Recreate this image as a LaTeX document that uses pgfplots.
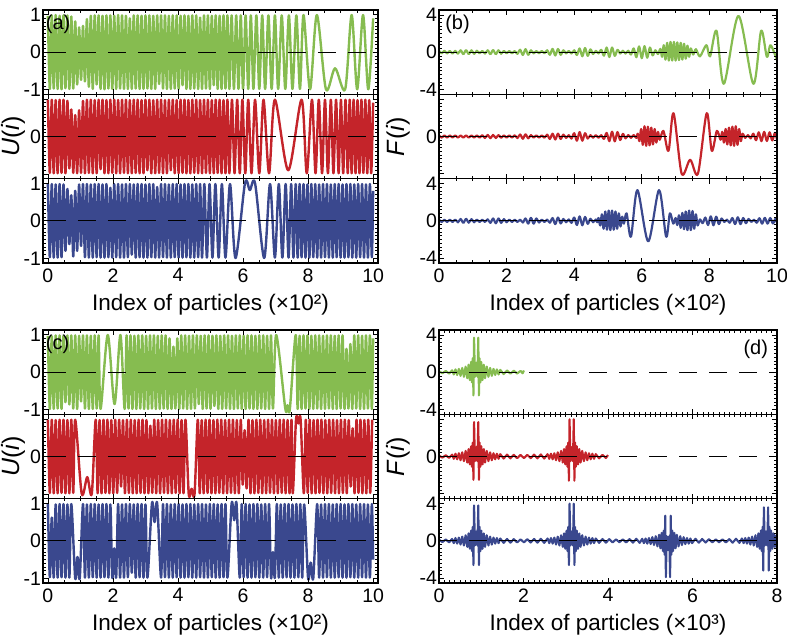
\documentclass[border=0pt]{standalone}
\usepackage{fontspec}
\setmainfont{Liberation Sans}
\usepackage{pgfplots}
\pgfplotsset{compat=1.18}
\definecolor{cg}{RGB}{134,188,80}
\definecolor{cr}{RGB}{196,36,42}
\definecolor{cb}{RGB}{58,72,142}
\tikzset{plab/.style={inner sep=0pt, font=\fontsize{20}{20}\selectfont}}
\pgfplotsset{
 base/.style={scale only axis, height=84.33pt, axis on top,
   axis line style={line width=1.1pt},
   tick style={black, line width=0.7pt},
   major tick length=5pt, minor tick length=2.8pt,
   tick align=inside,
   tick label style={font=\fontsize{19.5}{20}\selectfont},
   xticklabel style={yshift=-2pt},
   yticklabel style={xshift=1.5pt},
   xticklabels={},
   every axis x label/.style={at={(axis description cs:0.5,0)}, anchor=north, yshift=-28pt, font=\fontsize{22.5}{24}\selectfont},
 },
 ua/.style={base, width=335pt, xmin=-0.15, xmax=10.15, ymin=-1.124, ymax=1.124, xtick={0,2,4,6,8,10}, minor x tick num=3, ytick={-1,0,1}, minor y tick num=9, yticklabels={-1,0,1},
   every axis y label/.style={at={(axis description cs:-0.088,0.5)}, rotate=90, anchor=center, font=\fontsize{25}{27}\selectfont}},
 fb/.style={base, width=338pt, xmin=0, xmax=10, ymin=-4.53, ymax=4.53, xtick={0,2,4,6,8,10}, minor x tick num=3, ytick={-4,0,4}, minor y tick num=9, yticklabels={-4,0,4},
   every axis y label/.style={at={(axis description cs:-0.121,0.5)}, rotate=90, anchor=center, font=\fontsize{25}{27}\selectfont}},
 fd/.style={fb, xmax=8, xtick={0,2,4,6,8}, minor x tick num=15},
 mid/.style={yticklabels={,0,}},
 botA/.style={xticklabels={0,2,4,6,8,10}, xlabel={Index of particles (×10²)}},
 botD/.style={xticklabels={0,2,4,6,8}, xlabel={Index of particles (×10³)}},
 zl/.style={black, line width=0.9pt, dash pattern=on 18pt off 12pt},
 dl/.style={line width=2.1pt, line join=round},
 sm/.style={line width=2.4pt, line join=round, smooth, tension=0.5},
 smf/.style={line width=2.2pt, line join=round, smooth, tension=0.5},
}
\begin{document}
\begin{tikzpicture}
\path[use as bounding box] (0,0) rectangle (787pt,637pt);
% ================= (a) =================
\begin{axis}[ua, at={(43pt,542.67pt)}, anchor=south west]
\addplot[cg, sm] coordinates {
(0,.97)(.06,-.98)(.12,.98)(.18,-.97)(.24,.99)(.30,-.98)(.36,.97)(.42,-.99)(.48,.98)(.54,-.96)
(.60,.98)(.66,-.98)(.72,.95)(.78,-.97)(.84,.82)(.90,-.86)(.96,.66)(1.02,-.74)(1.08,.7)(1.14,-.78)
(1.20,.88)(1.26,-.92)(1.32,.97)(1.38,-.98)(1.44,.98)(1.50,-.86)(1.56,.98)(1.62,-.98)(1.68,.97)(1.74,-.99)
(1.80,.98)(1.86,-.97)(1.92,.98)(1.98,-.98)(2.04,.97)(2.10,-.98)(2.16,.99)(2.22,-.97)(2.28,.98)(2.34,-.98)
(2.40,.97)(2.46,-.98)(2.52,.90)(2.58,-.98)(2.64,.98)(2.70,-.97)(2.76,.98)(2.82,-.98)(2.88,.97)(2.94,-.98)
(3.00,.98)(3.06,-.97)(3.12,.98)(3.18,-.98)(3.24,.97)(3.30,-.98)(3.36,.98)(3.42,-.85)(3.48,.98)(3.54,-.97)
(3.60,.98)(3.66,-.98)(3.72,.97)(3.78,-.98)(3.84,.98)(3.90,-.97)(3.96,.98)(4.02,-.98)(4.08,.97)(4.14,-.88)
(4.20,.98)(4.26,-.98)(4.32,.97)(4.38,-.98)(4.44,.98)(4.50,-.97)(4.56,.98)(4.62,-.98)(4.68,.92)(4.74,-.98)
(4.80,.98)(4.86,-.97)(4.92,.98)(4.98,-.98)(5.04,.97)(5.10,-.88)(5.16,.98)(5.22,-.98)(5.28,.97)(5.34,-.98)
(5.40,.98)(5.46,-.97)(5.52,.98)(5.58,-.98)
(5.65,.98)(5.72,-.98)(5.79,.98)(5.86,-.98)(5.93,.98)(6.00,-.98)(6.08,.98)(6.16,-.98)(6.24,.98)(6.32,-.98)
(6.41,.98)(6.50,-.98)(6.59,.98)(6.68,-.98)(6.78,.98)(6.88,-.98)(6.98,.98)(7.08,-.98)(7.19,.98)(7.30,-.98)
(7.41,.98)(7.52,-.98)(7.64,.98)(7.75,-.98)(7.86,.99)(8.06,-.99)
(8.27,.99)(8.55,-.99)(8.83,-.43)(9.14,-.99)(9.34,.99)(9.51,-.99)(9.69,.99)(9.85,-.99)(10.0,.9)};
\addplot[zl] coordinates {(0,0)(10.15,0)};
\node[plab, anchor=north west] at (rel axis cs:0.008,0.94) {(a)};
\end{axis}
\begin{axis}[ua, mid, at={(43pt,458.33pt)}, anchor=south west, ylabel={\textit{U}(\textit{i})}]
\addplot[cr, sm] coordinates {
(0,.98)(.06,-.97)(.12,.98)(.18,-.98)(.24,.97)(.30,-.98)(.36,.98)(.42,-.97)(.48,.98)(.54,-.98)
(.60,.95)(.66,-.85)(.72,.72)(.78,-.97)(.84,.57)(.90,-.98)(.96,.7)(1.02,-.97)(1.08,.95)(1.14,-.98)
(1.20,.98)(1.26,-.97)(1.32,.98)(1.38,-.98)(1.44,.97)(1.50,-.98)(1.56,.98)(1.62,-.87)(1.68,.98)(1.74,-.98)
(1.80,.97)(1.86,-.98)(1.92,.98)(1.98,-.97)(2.04,.98)(2.10,-.98)(2.16,.97)(2.22,-.98)(2.28,.98)(2.34,-.97)
(2.40,.98)(2.46,-.98)(2.52,.97)(2.58,-.98)(2.64,.98)(2.70,-.97)(2.76,.98)(2.82,-.98)(2.88,.97)(2.94,-.98)
(3.00,.98)(3.06,-.9)(3.12,.98)(3.18,-.98)(3.24,.97)(3.30,-.98)(3.36,.98)(3.42,-.97)(3.48,.98)(3.54,-.98)
(3.60,.97)(3.66,-.98)(3.72,.98)(3.78,-.9)(3.84,.98)(3.90,-.98)(3.96,.97)(4.02,-.98)(4.08,.98)(4.14,-.97)
(4.20,.98)(4.26,-.98)(4.32,.97)(4.38,-.98)(4.44,.98)(4.50,-.97)(4.56,.98)(4.62,-.98)(4.68,.97)(4.74,-.98)
(4.80,.98)(4.86,-.97)(4.92,.98)(4.98,-.98)(5.04,.97)(5.10,-.98)(5.16,.98)(5.22,-.97)(5.28,.98)(5.34,-.98)
(5.40,.97)(5.46,-.98)(5.52,.98)(5.58,-.98)
(5.66,.98)(5.74,-.98)(5.82,.98)(5.90,-.98)(5.98,.98)(6.07,-.98)(6.16,.98)(6.26,-.98)(6.37,.98)(6.50,-.98)
(6.63,.98)(6.80,-.98)(6.98,.98)(7.39,-.9)(7.80,.98)(7.96,-.98)(8.12,.98)(8.23,-.98)(8.33,.98)(8.43,-.98)
(8.52,.98)(8.61,-.98)(8.70,.98)(8.78,-.98)(8.86,.98)(8.94,-.98)(9.01,.98)(9.08,-.98)(9.15,.98)(9.22,-.98)
(9.28,.98)(9.34,-.98)(9.40,.98)(9.46,-.98)(9.52,.97)(9.58,-.98)(9.64,.98)(9.70,-.97)(9.76,.98)(9.82,-.98)
(9.88,.97)(9.94,-.98)(10.0,.9)};
\addplot[zl] coordinates {(0,0)(10.15,0)};
\end{axis}
\begin{axis}[ua, botA, at={(43pt,374pt)}, anchor=south west]
\addplot[cb, sm] coordinates {
(0,.98)(.06,-.97)(.12,.98)(.18,-.98)(.24,.97)(.30,-.98)(.36,.98)(.42,-.97)(.48,.97)(.54,-.8)
(.60,.85)(.66,-.62)(.72,.68)(.78,-.95)(.84,.8)(.90,-.8)(.96,.97)(1.02,-.67)(1.08,.98)(1.14,-.97)
(1.20,.98)(1.26,-.98)(1.32,.97)(1.38,-.98)(1.44,.98)(1.50,-.97)(1.56,.98)(1.62,-.98)(1.68,.97)(1.74,-.98)
(1.80,.98)(1.86,-.97)(1.92,.88)(1.98,-.98)(2.04,.98)(2.10,-.97)(2.16,.98)(2.22,-.98)(2.28,.97)(2.34,-.98)
(2.40,.98)(2.46,-.97)(2.52,.98)(2.58,-.9)(2.64,.97)(2.70,-.98)(2.76,.98)(2.82,-.97)(2.88,.98)(2.94,-.98)
(3.00,.97)(3.06,-.98)(3.12,.98)(3.18,-.97)(3.24,.98)(3.30,-.98)(3.36,.9)(3.42,-.98)(3.48,.98)(3.54,-.97)
(3.60,.98)(3.66,-.98)(3.72,.97)(3.78,-.98)(3.84,.98)(3.90,-.97)(3.96,.98)(4.02,-.98)(4.08,.97)(4.14,-.98)
(4.20,.98)(4.26,-.97)(4.32,.98)(4.38,-.98)(4.44,.97)(4.50,-.98)(4.56,.98)(4.62,-.97)(4.68,.98)
(4.74,-.98)(4.81,.98)(4.89,-.98)(4.97,.98)(5.06,-.98)(5.15,.98)(5.25,-.98)(5.35,.98)(5.46,-.98)(5.60,.98)
(5.77,-.99)(6.06,1.0)(6.21,.82)(6.37,1.0)(6.65,-.99)(6.83,.98)(6.98,-.98)(7.10,.98)(7.21,-.98)(7.31,.98)
(7.40,-.98)(7.48,.98)(7.55,-.98)(7.62,.98)(7.68,-.98)
(7.74,.98)(7.80,-.97)(7.86,.98)(7.92,-.98)(7.98,.97)(8.04,-.98)(8.10,.98)(8.16,-.97)(8.22,.98)(8.28,-.98)
(8.34,.97)(8.40,-.98)(8.46,.98)(8.52,-.97)(8.58,.98)(8.64,-.98)(8.70,.97)(8.76,-.98)(8.82,.98)(8.88,-.97)
(8.94,.98)(9.00,-.98)(9.06,.97)(9.12,-.98)(9.18,.98)(9.24,-.97)(9.30,.98)(9.36,-.98)(9.42,.97)(9.48,-.98)
(9.54,.98)(9.60,-.97)(9.66,.98)(9.72,-.98)(9.78,.97)(9.84,-.98)(9.90,.98)(9.96,-.97)(10.0,.8)};
\addplot[zl] coordinates {(0,0)(10.15,0)};
\end{axis}
% ================= (b) =================
\begin{axis}[fb, at={(439pt,542.67pt)}, anchor=south west]
\addplot[cg, smf] coordinates {
(0,.14)(.08,-.13)(.16,.15)(.24,-.14)(.32,.13)(.40,-.15)(.48,.14)(.56,-.16)(.64,.2)(.72,-.22)
(.80,.22)(.88,-.21)(.96,.2)(1.04,-.18)(1.12,.15)(1.20,-.12)(1.28,.12)(1.36,-.15)(1.44,.2)(1.52,-.22)
(1.60,.22)(1.68,-.22)(1.76,.2)(1.84,-.17)(1.92,.14)(2.00,-.12)(2.08,.12)(2.16,-.13)(2.24,.12)(2.32,-.18)
(2.40,.26)(2.48,-.3)(2.56,.32)(2.64,-.28)(2.72,.2)(2.80,-.13)(2.88,.12)(2.96,-.12)(3.04,.13)(3.12,-.12)
(3.20,.2)(3.28,-.28)(3.36,.35)(3.44,-.36)(3.52,.34)(3.60,-.28)(3.68,.2)(3.76,-.13)(3.84,.13)(3.92,-.14)
(4.00,.2)(4.08,-.3)(4.16,.4)(4.24,-.44)(4.32,.45)(4.40,-.4)(4.48,.3)(4.56,-.2)(4.64,.14)(4.72,-.14)
(4.80,.25)(4.88,-.38)(4.96,.5)(5.04,-.52)(5.12,.5)(5.20,-.4)(5.28,.25)(5.36,-.15)(5.44,.15)(5.52,-.15)
(5.60,.15)(5.68,-.25)(5.76,.4)(5.84,-.55)(5.92,.62)(6.00,-.65)(6.08,.65)(6.16,-.6)(6.24,.5)(6.32,-.35)
(6.40,.2)(6.48,-.2)
(6.55,.35)(6.60,-.5)(6.65,.75)(6.70,-.8)(6.75,1.0)(6.80,-.9)(6.85,1.1)(6.90,-.9)(6.95,1.1)(7.00,-.9)
(7.05,1.05)(7.10,-.85)(7.15,1.0)(7.20,-.8)(7.25,.9)(7.30,-.7)(7.35,.7)(7.40,-.5)(7.45,.4)
(7.52,-.25)(7.60,.32)(7.72,-.45)(7.91,.75)(8.02,-.45)(8.21,2.3)(8.43,-3.4)(8.86,3.9)(9.30,-3.4)(9.53,2.3)
(9.70,-.5)(9.81,.75)(10.0,-.85)};
\addplot[zl] coordinates {(0,0)(10,0)};
\node[plab, anchor=north west] at (rel axis cs:0.018,0.94) {(b)};
\end{axis}
\begin{axis}[fb, mid, at={(439pt,458.33pt)}, anchor=south west, ylabel={\textit{F}(\textit{i})}]
\addplot[cr, smf] coordinates {
(0,.12)(.08,-.12)(.16,.11)(.24,-.12)(.32,.12)(.40,-.11)(.48,.12)(.56,-.12)(.64,.11)(.72,-.12)
(.80,.12)(.88,-.12)(.96,.11)(1.04,-.12)(1.12,.12)(1.20,-.12)(1.28,.14)(1.36,-.16)(1.44,.17)(1.52,-.18)
(1.60,.17)(1.68,-.16)(1.76,.15)(1.84,-.13)(1.92,.12)(2.00,-.12)(2.08,.12)(2.16,-.12)(2.24,.13)(2.32,-.17)
(2.40,.22)(2.48,-.24)(2.56,.23)(2.64,-.2)(2.72,.15)(2.80,-.12)(2.88,.12)(2.96,-.12)(3.04,.12)(3.12,-.13)
(3.20,.2)(3.28,-.26)(3.36,.3)(3.44,-.32)(3.52,.3)(3.60,-.26)(3.68,.2)(3.76,-.15)(3.84,.14)(3.92,-.22)
(4.00,.35)(4.08,-.45)(4.16,.48)(4.24,-.45)(4.32,.35)(4.40,-.22)(4.48,.14)(4.56,-.13)(4.64,.14)(4.72,-.13)
(4.80,.14)(4.88,-.25)(4.96,.38)(5.04,-.5)(5.12,.52)(5.20,-.52)(5.28,.48)(5.36,-.38)(5.44,.28)(5.52,-.2)
(5.60,.15)(5.68,-.14)(5.76,.15)(5.84,-.15)
(5.88,.3)(5.93,-.5)(5.98,.8)(6.03,-.9)(6.08,1.1)(6.13,-1.0)(6.18,1.05)(6.23,-.95)(6.28,.95)(6.33,-.85)
(6.38,.8)(6.43,-.65)(6.48,.5)(6.53,-.35)
(6.64,.6)(6.79,-1.55)(6.94,2.5)(7.18,-4.0)(7.43,-2.5)(7.66,-4.0)(7.92,2.5)(8.07,-1.55)(8.22,.6)
(8.33,-.35)(8.38,.5)(8.43,-.65)(8.48,.8)(8.53,-.85)(8.58,.95)(8.63,-.95)(8.68,1.05)(8.73,-1.0)(8.78,1.1)
(8.83,-.9)(8.88,.8)(8.93,-.5)(8.98,.3)(9.06,-.15)(9.14,.15)(9.22,-.2)
(9.30,.3)(9.38,-.4)(9.46,.45)(9.54,-.5)(9.62,.5)(9.70,-.48)(9.78,.45)(9.86,-.42)(9.94,.4)(10.0,-.35)};
\addplot[zl] coordinates {(0,0)(10,0)};
\end{axis}
\begin{axis}[fb, botA, at={(439pt,374pt)}, anchor=south west]
\addplot[cb, smf] coordinates {
(0,.12)(.08,-.12)(.16,.11)(.24,-.12)(.32,.12)(.40,-.12)(.48,.13)(.56,-.16)(.64,.2)(.72,-.22)
(.80,.22)(.88,-.2)(.96,.18)(1.04,-.15)(1.12,.13)(1.20,-.12)(1.28,.12)(1.36,-.12)(1.44,.16)(1.52,-.22)
(1.60,.25)(1.68,-.26)(1.76,.25)(1.84,-.22)(1.92,.18)(2.00,-.15)(2.08,.13)(2.16,-.12)(2.24,.12)(2.32,-.12)
(2.40,.13)(2.48,-.18)(2.56,.25)(2.64,-.3)(2.72,.32)(2.80,-.3)(2.88,.25)(2.96,-.18)(3.04,.13)(3.12,-.12)
(3.20,.13)(3.28,-.2)(3.36,.3)(3.44,-.35)(3.52,.35)(3.60,-.28)(3.68,.2)(3.76,-.15)(3.84,.15)(3.92,-.22)
(4.00,.35)(4.08,-.45)(4.16,.48)(4.24,-.48)(4.32,.42)(4.40,-.32)(4.48,.22)(4.56,-.15)(4.64,.15)(4.68,-.15)
(4.72,.3)(4.77,-.5)(4.82,.7)(4.87,-.85)(4.92,1.0)(4.97,-.95)(5.02,1.1)(5.07,-1.0)(5.12,1.1)(5.17,-.95)
(5.22,1.0)(5.27,-.85)(5.32,.8)(5.37,-.6)(5.42,.45)(5.47,-.3)
(5.55,.8)(5.68,-1.7)(5.87,3.3)(6.19,-2.2)(6.51,3.3)(6.72,-1.7)(6.83,.8)(6.93,-.3)
(7.00,.3)(7.05,-.45)(7.10,.6)(7.15,-.75)(7.20,.85)(7.25,-.9)(7.30,1.0)(7.35,-1.0)(7.40,1.1)(7.45,-1.0)
(7.50,1.05)(7.55,-.85)(7.60,.7)(7.65,-.5)(7.72,.15)
(7.80,-.25)(7.88,.35)(7.96,-.45)(8.04,.48)(8.12,-.48)(8.20,.45)(8.28,-.35)(8.36,.25)(8.44,-.12)(8.52,.12)
(8.60,-.2)(8.68,.3)(8.76,-.35)(8.84,.38)(8.92,-.35)(9.00,.3)(9.08,-.25)(9.16,.2)(9.24,-.12)(9.32,.12)
(9.40,-.2)(9.48,.28)(9.56,-.3)(9.64,.32)(9.72,-.3)(9.80,.3)(9.88,-.28)(9.96,.25)(10.0,-.2)};
\addplot[zl] coordinates {(0,0)(10,0)};
\end{axis}
% ================= (c) =================
\begin{axis}[ua, at={(43pt,222.67pt)}, anchor=south west]
\addplot[cg, sm] coordinates {
(0,.97)(.06,-.98)(.12,.96)(.18,-.98)(.24,.98)(.30,-.97)(.36,.98)(.42,-.98)(.48,.97)(.54,-.8)
(.60,.98)(.66,-.86)(.72,.98)(.78,-.97)(.84,.98)(.90,-.98)(.96,.97)(1.02,-.78)(1.08,.98)(1.14,-.97)
(1.20,.98)(1.26,-.98)(1.32,.97)(1.38,-.98)(1.44,.98)(1.50,-.97)(1.56,.98)(1.62,-.98)
(1.84,.99)(2.05,-.85)(2.23,.99)(2.36,-.98)
(2.42,.98)(2.48,-.97)(2.54,.98)(2.60,-.98)(2.66,.97)(2.72,-.98)(2.78,.98)(2.84,-.97)(2.90,.98)(2.96,-.98)
(3.02,.97)(3.08,-.98)(3.14,.98)(3.20,-.97)(3.26,.98)(3.32,-.98)(3.38,.97)(3.44,-.98)(3.50,.98)(3.56,-.97)
(3.62,.98)(3.68,-.98)(3.74,.9)(3.80,-.98)(3.86,.68)(3.92,-.97)(3.98,.9)(4.04,-.98)(4.10,.98)(4.16,-.97)
(4.22,.98)(4.28,-.98)(4.34,.97)(4.40,-.98)(4.46,.98)(4.52,-.97)(4.58,.98)(4.64,-.85)(4.70,.97)(4.76,-.98)
(4.82,.98)(4.88,-.97)(4.94,.98)(5.00,-.98)(5.06,.97)(5.12,-.9)(5.18,.98)(5.24,-.98)(5.30,.97)(5.36,-.98)
(5.42,.98)(5.48,-.97)(5.54,.98)(5.60,-.98)(5.66,.97)(5.72,-.98)(5.78,.98)(5.84,-.97)(5.90,.98)(5.96,-.98)
(6.02,.97)(6.08,-.98)(6.14,.98)(6.20,-.97)(6.26,.98)(6.32,-.98)(6.38,.97)(6.44,-.98)(6.50,.98)(6.56,-.97)
(6.62,.98)(6.68,-.98)(6.74,.97)(6.80,-.98)(6.86,.98)(6.92,-.97)
(7.02,.99)(7.30,-.97)(7.37,-.88)(7.44,-.98)(7.62,.99)
(7.68,-.98)(7.74,.97)(7.80,-.98)(7.86,.98)(7.92,-.97)(7.98,.98)(8.04,-.98)(8.10,.97)(8.16,-.98)(8.22,.98)
(8.28,-.97)(8.34,.98)(8.40,-.98)(8.46,.97)(8.52,-.98)(8.58,.98)(8.64,-.97)(8.70,.98)(8.76,-.98)(8.82,.97)
(8.88,-.98)(8.94,.98)(9.00,-.97)(9.06,.98)(9.12,-.98)(9.18,.62)(9.24,-.97)(9.30,.75)(9.36,-.98)(9.42,.98)
(9.48,-.97)(9.54,.98)(9.60,-.98)(9.66,.97)(9.72,-.98)(9.78,.98)(9.84,-.97)(9.90,.98)(9.96,-.98)(10.0,.9)};
\addplot[zl] coordinates {(0,0)(10.15,0)};
\node[plab, anchor=north west] at (rel axis cs:0.008,0.94) {(c)};
\end{axis}
\begin{axis}[ua, mid, at={(43pt,138.33pt)}, anchor=south west, ylabel={\textit{U}(\textit{i})}]
\addplot[cr, sm] coordinates {
(0,.98)(.06,-.97)(.12,.98)(.18,-.98)(.24,.97)(.30,-.98)(.36,.98)(.42,-.97)(.48,.98)(.54,-.98)
(.60,.97)(.66,-.98)(.72,.98)(.78,-.97)(.84,.98)
(1.04,-.99)(1.21,-.55)(1.35,-.99)(1.47,.98)
(1.53,-.98)(1.59,.97)(1.65,-.98)(1.71,.98)(1.77,-.97)(1.83,.98)(1.89,-.98)(1.95,.97)(2.01,-.98)(2.07,.98)
(2.13,-.97)(2.19,.98)(2.25,-.8)(2.31,.97)(2.37,-.98)(2.43,.98)(2.49,-.97)(2.55,.98)(2.61,-.98)(2.67,.97)
(2.73,-.98)(2.79,.98)(2.85,-.97)(2.91,.98)(2.97,-.98)(3.03,.97)(3.09,-.98)(3.15,.82)(3.21,-.97)(3.27,.98)
(3.33,-.98)(3.39,.97)(3.45,-.98)(3.51,.98)(3.57,-.97)(3.63,.98)(3.69,-.98)(3.75,.97)(3.81,-.98)(3.87,.98)
(3.93,-.97)(3.99,.98)(4.05,-.98)(4.11,.97)(4.17,-.98)(4.23,.98)
(4.33,-.99)(4.42,-.86)(4.51,-.99)(4.61,.98)
(4.67,-.98)(4.73,.97)(4.79,-.98)(4.85,.98)(4.91,-.97)(4.97,.98)(5.03,-.98)(5.09,.97)(5.15,-.98)(5.21,.98)
(5.27,-.97)(5.33,.98)(5.39,-.98)(5.45,.97)(5.51,-.98)(5.57,.98)(5.63,-.97)(5.69,.98)(5.75,-.98)(5.81,.97)
(5.87,-.98)(5.93,.98)(5.99,-.75)(6.05,.7)(6.11,-.85)(6.17,.98)(6.23,-.98)(6.29,.97)(6.35,-.98)(6.41,.98)
(6.47,-.97)(6.53,.98)(6.59,-.98)(6.65,.97)(6.71,-.98)(6.77,.98)(6.83,-.97)(6.89,.98)(6.95,-.98)(7.01,.97)
(7.07,-.98)(7.13,.98)(7.19,-.97)(7.25,.98)(7.31,-.98)(7.37,.97)(7.43,-.98)(7.49,.98)
(7.53,-.98)(7.63,.99)(7.70,.88)(7.77,.99)(7.87,-.98)
(7.93,.98)(7.99,-.97)(8.05,.98)(8.11,-.98)(8.17,.97)(8.23,-.98)(8.29,.98)(8.35,-.97)(8.41,.98)(8.47,-.98)
(8.53,.97)(8.59,-.98)(8.65,.98)(8.71,-.97)(8.77,.98)(8.83,-.98)(8.89,.97)(8.95,-.98)(9.01,.98)(9.07,-.97)
(9.13,.98)(9.19,-.98)(9.25,.97)(9.31,-.8)(9.37,.75)(9.43,-.98)(9.49,.98)(9.55,-.97)(9.61,.98)(9.67,-.98)
(9.73,.97)(9.79,-.98)(9.85,.98)(9.91,-.97)(9.97,.98)};
\addplot[zl] coordinates {(0,0)(10.15,0)};
\end{axis}
\begin{axis}[ua, botA, at={(43pt,54pt)}, anchor=south west]
\addplot[cb, sm] coordinates {
(0,.98)(.06,-.97)(.12,.62)(.18,-.98)(.24,.97)(.30,-.98)(.36,.98)(.42,-.97)(.48,.98)(.54,-.98)
(.60,.97)(.66,-.98)(.72,.98)
(.84,-.99)(.91,-.43)(.98,-.99)(1.08,.98)
(1.14,-.98)(1.20,.97)(1.26,-.98)(1.32,.98)(1.38,-.97)(1.44,.98)(1.50,-.98)(1.56,.97)(1.62,-.98)(1.68,.98)
(1.74,-.97)(1.80,.98)(1.86,-.98)(1.92,.97)(1.98,-.98)(2.04,-.2)(2.10,-.97)(2.16,.98)(2.22,-.98)(2.28,.97)
(2.34,-.98)(2.40,.98)(2.46,-.97)(2.52,.98)(2.58,-.85)(2.64,.97)(2.70,-.98)(2.76,.98)(2.82,-.97)(2.88,.98)
(2.94,-.98)(3.00,.97)(3.06,-.98)
(3.20,1.0)(3.28,.5)(3.36,1.0)(3.48,-.98)
(3.54,.98)(3.60,-.97)(3.66,.98)(3.72,-.98)(3.78,.97)(3.84,-.98)(3.90,.98)(3.96,-.97)(4.02,.98)(4.08,-.98)
(4.14,.97)(4.20,-.98)(4.26,.98)(4.32,-.97)(4.38,.98)(4.44,-.98)(4.50,.97)(4.56,-.98)(4.62,.98)(4.68,-.97)
(4.74,.98)(4.80,-.98)(4.86,.97)(4.92,-.98)(4.98,.98)(5.04,-.97)(5.10,.98)(5.16,-.98)(5.22,.97)(5.28,-.98)
(5.34,.98)(5.40,-.97)(5.46,.98)(5.52,-.98)
(5.65,1.0)(5.73,.55)(5.80,1.0)(5.90,-.98)
(5.96,.98)(6.02,-.97)(6.08,.98)(6.14,-.98)(6.20,.97)(6.26,-.98)(6.32,.98)(6.38,-.97)(6.44,.98)(6.50,-.98)
(6.56,.97)(6.62,-.98)(6.68,.98)(6.74,-.97)(6.80,.98)(6.86,-.98)(6.92,-.3)(6.98,-.97)(7.04,.98)(7.10,-.98)
(7.16,.97)(7.22,-.98)(7.28,.98)(7.34,-.97)(7.40,.98)(7.46,-.98)(7.52,.97)(7.58,-.98)(7.64,.98)(7.70,-.97)
(7.76,.98)(7.82,-.98)(7.88,.97)
(8.00,-.99)(8.08,-.58)(8.16,-.99)(8.28,.98)
(8.34,-.98)(8.40,.97)(8.46,-.98)(8.52,.98)(8.58,-.97)(8.64,.98)(8.70,-.98)(8.76,.97)(8.82,-.98)(8.88,.98)
(8.94,-.97)(9.00,.98)(9.06,-.98)(9.12,.97)(9.18,-.98)(9.24,.98)(9.30,-.97)(9.36,.98)(9.42,-.98)(9.48,.97)
(9.54,-.98)(9.60,.98)(9.66,-.97)(9.72,.98)(9.78,-.98)(9.84,.97)(9.90,-.98)(9.96,.98)(10.0,-.5)};
\addplot[zl] coordinates {(0,0)(10.15,0)};
\end{axis}
% ================= (d) =================
\begin{axis}[fd, at={(439pt,222.67pt)}, anchor=south west]
\addplot[cg, dl] coordinates {
(0,.1)(.08,-.12)(.16,.13)(.24,-.15)(.31,.2)
(.35,-.25)(.39,.3)(.43,-.3)(.47,.35)(.51,-.4)(.55,.45)(.59,-.5)(.63,.6)(.67,-.65)(.70,.8)
(.73,-.85)(.76,1.1)(.78,-1.1)(.80,1.5)(.815,-2.5)(.83,3.7)(.85,-.5)(.88,1.0)(.91,-.5)(.93,3.7)
(.945,-2.5)(.96,1.5)(.98,-1.1)(1.00,1.1)(1.03,-.85)(1.06,.8)(1.09,-.65)(1.13,.6)(1.17,-.5)(1.21,.45)
(1.25,-.4)(1.29,.35)(1.33,-.3)(1.37,.3)(1.41,-.25)(1.45,.25)
(1.53,-.2)(1.61,.18)(1.69,-.16)(1.77,.15)(1.85,-.14)(1.93,.13)(1.98,-.12)(2.01,.18)};
\addplot[zl] coordinates {(0,0)(8,0)};
\node[plab, anchor=north east] at (rel axis cs:0.974,0.88) {(d)};
\end{axis}
\begin{axis}[fd, mid, at={(439pt,138.33pt)}, anchor=south west, ylabel={\textit{F}(\textit{i})}]
\addplot[cr, dl] coordinates {
(0,.1)(.08,-.12)(.16,.13)(.24,-.15)(.31,.2)
(.35,-.25)(.39,.3)(.43,-.3)(.47,.35)(.51,-.4)(.55,.45)(.59,-.5)(.63,.6)(.67,-.65)(.70,.8)
(.73,-.85)(.76,1.1)(.78,-1.1)(.80,1.5)(.815,-2.5)(.83,3.7)(.85,-.5)(.88,1.0)(.91,-.5)(.93,3.7)
(.945,-2.5)(.96,1.5)(.98,-1.1)(1.00,1.1)(1.03,-.85)(1.06,.8)(1.09,-.65)(1.13,.6)(1.17,-.5)(1.21,.45)
(1.25,-.4)(1.29,.35)(1.33,-.3)(1.37,.3)(1.41,-.25)(1.45,.25)
(1.53,-.22)(1.61,.2)(1.69,-.2)(1.77,.18)(1.85,-.18)(1.93,.17)(2.01,-.17)(2.09,.18)(2.17,-.18)(2.25,.2)
(2.33,-.2)(2.41,.22)(2.49,-.22)
(2.57,.25)(2.61,-.25)(2.65,.3)(2.69,-.3)(2.73,.35)(2.77,-.4)(2.81,.45)(2.85,-.5)(2.89,.6)(2.93,-.65)
(2.96,.8)(2.99,-.85)(3.02,1.1)(3.04,-1.1)(3.06,1.5)(3.075,-2.6)(3.09,4.0)(3.11,-.5)(3.14,1.0)(3.17,-.5)
(3.19,4.0)(3.205,-2.6)(3.22,1.5)(3.24,-1.1)(3.26,1.1)(3.29,-.85)(3.32,.8)(3.35,-.65)(3.39,.6)(3.43,-.5)
(3.47,.45)(3.51,-.4)(3.55,.35)(3.59,-.3)(3.63,.3)(3.67,-.25)(3.71,.25)
(3.79,-.2)(3.87,.18)(3.95,-.16)(4.0,.15)};
\addplot[zl] coordinates {(0,0)(8,0)};
\end{axis}
\begin{axis}[fd, botD, at={(439pt,54pt)}, anchor=south west]
\addplot[cb, dl] coordinates {
(0,.12)(.08,-.13)(.16,.14)(.24,-.16)(.31,.2)
(.35,-.25)(.39,.3)(.43,-.3)(.47,.35)(.51,-.4)(.55,.45)(.59,-.5)(.63,.6)(.67,-.65)(.70,.8)
(.73,-.85)(.76,1.1)(.78,-1.1)(.80,1.5)(.815,-2.6)(.83,3.8)(.85,-.5)(.88,1.0)(.91,-.5)(.93,3.8)
(.945,-2.6)(.96,1.5)(.98,-1.1)(1.00,1.1)(1.03,-.85)(1.06,.8)(1.09,-.65)(1.13,.6)(1.17,-.5)(1.21,.45)
(1.25,-.4)(1.29,.35)(1.33,-.3)(1.37,.3)(1.41,-.25)(1.45,.25)
(1.53,-.22)(1.61,.2)(1.69,-.2)(1.77,.18)(1.85,-.17)(1.93,.16)(2.01,-.16)(2.09,.17)(2.17,-.18)(2.25,.2)
(2.33,-.2)(2.41,.22)(2.49,-.22)
(2.57,.25)(2.61,-.25)(2.65,.3)(2.69,-.3)(2.73,.35)(2.77,-.4)(2.81,.45)(2.85,-.5)(2.89,.6)(2.93,-.65)
(2.96,.8)(2.99,-.85)(3.02,1.1)(3.04,-1.1)(3.06,1.5)(3.075,-2.6)(3.09,4.0)(3.11,-.5)(3.14,1.0)(3.17,-.5)
(3.19,4.0)(3.205,-2.6)(3.22,1.5)(3.24,-1.1)(3.26,1.1)(3.29,-.85)(3.32,.8)(3.35,-.65)(3.39,.6)(3.43,-.5)
(3.47,.45)(3.51,-.4)(3.55,.35)(3.59,-.3)(3.63,.3)(3.67,-.25)(3.71,.25)
(3.79,-.22)(3.87,.2)(3.95,-.2)(4.03,.18)(4.11,-.17)(4.19,.16)(4.27,-.15)(4.35,.16)(4.43,-.17)(4.51,.18)
(4.59,-.2)(4.67,.22)(4.75,-.22)(4.81,.22)
(4.85,-.25)(4.89,.25)(4.93,-.3)(4.97,.3)(5.01,-.35)(5.05,.4)(5.09,-.45)(5.13,.5)(5.17,-.6)(5.21,.65)
(5.24,-.8)(5.27,.85)(5.30,-1.1)(5.32,1.1)(5.34,-1.5)(5.355,2.7)(5.37,-3.9)(5.39,.5)(5.42,-1.0)(5.45,.5)
(5.47,-3.9)(5.485,2.7)(5.50,-1.5)(5.52,1.1)(5.54,-1.1)(5.57,.85)(5.60,-.8)(5.63,.65)(5.67,-.6)(5.71,.5)
(5.75,-.45)(5.79,.4)(5.83,-.35)(5.87,.3)(5.91,-.3)(5.95,.25)(5.99,-.25)
(6.07,.22)(6.15,-.2)(6.23,.2)(6.31,-.18)(6.39,.17)(6.47,-.16)(6.55,.15)(6.63,-.15)(6.71,.16)(6.79,-.17)
(6.87,.18)(6.95,-.2)(7.03,.22)(7.11,-.22)
(7.17,.25)(7.21,-.25)(7.25,.3)(7.29,-.3)(7.33,.35)(7.37,-.4)(7.41,.45)(7.45,-.5)(7.49,.6)(7.53,-.65)
(7.56,.8)(7.59,-.85)(7.62,1.1)(7.64,-1.1)(7.66,1.5)(7.675,-3.2)(7.69,3.6)(7.71,-.5)(7.74,1.0)(7.77,-.5)
(7.79,3.6)(7.805,-3.2)(7.82,1.5)(7.84,-1.1)(7.86,1.1)(7.89,-.85)(7.92,.8)(7.95,-.65)(7.98,.6)(8.0,-.5)};
\addplot[zl] coordinates {(0,0)(8,0)};
\end{axis}
\end{tikzpicture}
\end{document}
